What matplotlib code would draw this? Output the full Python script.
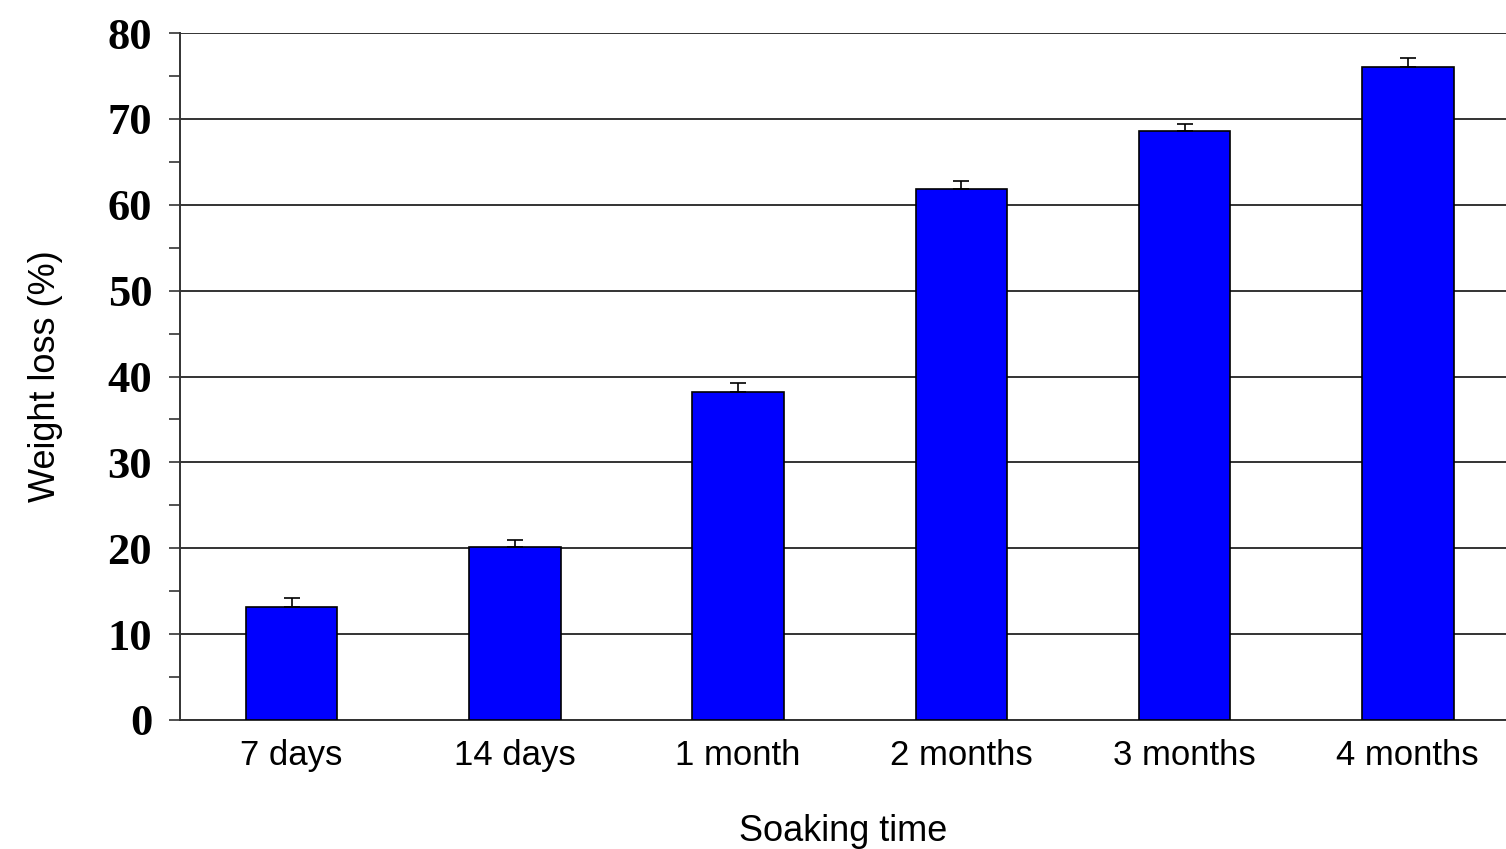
import matplotlib
matplotlib.use("Agg")
import matplotlib.pyplot as plt
import numpy as np

categories = ["7 days", "14 days", "1 month", "2 months", "3 months", "4 months"]
values = [13.2, 20.2, 38.2, 61.8, 68.6, 76.0]
errors = [1.0, 0.8, 1.1, 1.0, 0.8, 1.1]

fig = plt.figure(figsize=(15.06, 8.49), dpi=100)
ax = fig.add_axes([0.1195, 0.152, 0.8805, 0.809])
x = np.arange(len(categories))
ax.bar(x, values, width=0.41, color="#0000ff", edgecolor="black", linewidth=1.2, zorder=3,
       yerr=[np.zeros(len(errors)), errors], error_kw=dict(ecolor="black", capsize=6, elinewidth=1.2, capthick=1.2))
ax.set_xlim(-0.5, 5.44)
ax.set_ylim(0, 80)
ax.set_yticks(range(0, 81, 10))
ax.set_yticks(range(5, 80, 10), minor=True)
ax.yaxis.grid(True, color="#333333", linewidth=1.4, zorder=0)
for s in ["top", "right"]:
    ax.spines[s].set_visible(False)
ax.spines["left"].set_color("#333333")
ax.spines["bottom"].set_color("#333333")
ax.spines["left"].set_linewidth(1.4)
ax.spines["bottom"].set_linewidth(1.4)
ax.tick_params(axis="y", which="both", length=8, width=1.2, color="#333333", pad=12)
ax.tick_params(axis="x", length=0, pad=14, labelsize=25)
ax.set_xticks(x)
ax.set_xticklabels(categories, family="Liberation Sans")
for lbl in ax.get_yticklabels():
    lbl.set_fontfamily("Liberation Serif")
    lbl.set_fontweight("bold")
    lbl.set_fontsize(32)
ax.set_ylabel("Weight loss (%)", fontsize=26, family="Liberation Sans", labelpad=32)
ax.set_xlabel("Soaking time", fontsize=26, family="Liberation Sans", labelpad=30)
fig.savefig("out.png", dpi=100)
